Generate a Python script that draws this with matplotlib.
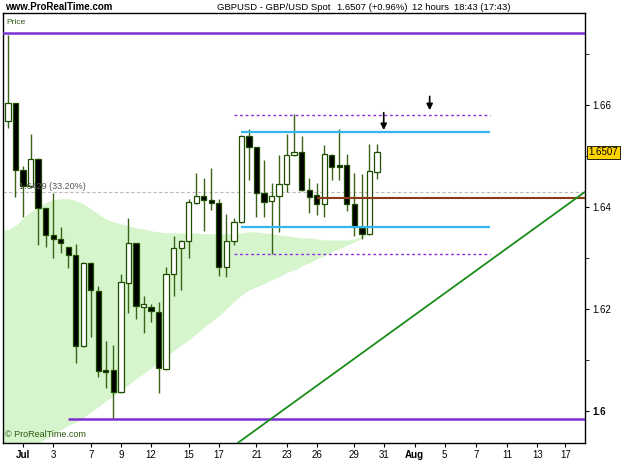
import matplotlib.pyplot as plt
import matplotlib.transforms as mtransforms
import numpy as np

plt.rcParams['font.family'] = ['Liberation Sans', 'DejaVu Sans']

# GBPUSD 12h candles, 30 Jun - 30 Jul
opens = [1.6569, 1.6604, 1.6473, 1.6441, 1.6494, 1.6398, 1.6345, 1.6337, 1.6322, 1.6306,
         1.6127, 1.6290, 1.6235, 1.6080, 1.6080, 1.6037, 1.6251, 1.6329, 1.6204, 1.6204,
         1.6194, 1.6082, 1.6269, 1.6320, 1.6333, 1.6408, 1.6422, 1.6414, 1.6408, 1.6282,
         1.6333, 1.6371, 1.6539, 1.6518, 1.6427, 1.6412, 1.6422, 1.6445, 1.6502, 1.6508,
         1.6433, 1.6424, 1.6406, 1.6502, 1.6482, 1.6482, 1.6406, 1.6359, 1.6347, 1.6469]
highs = [1.6737, 1.6604, 1.6480, 1.6543, 1.6496, 1.6398, 1.6427, 1.6361, 1.6322, 1.6327,
         1.6292, 1.6292, 1.6245, 1.6137, 1.6129, 1.6269, 1.6378, 1.6329, 1.6225, 1.6210,
         1.6214, 1.6282, 1.6343, 1.6335, 1.6416, 1.6467, 1.6457, 1.6476, 1.6416, 1.6386,
         1.6378, 1.6541, 1.6553, 1.6518, 1.6492, 1.6447, 1.6502, 1.6543, 1.6582, 1.6539,
         1.6457, 1.6447, 1.6522, 1.6504, 1.6553, 1.6504, 1.6467, 1.6465, 1.6524, 1.6524]
lows = [1.6555, 1.6420, 1.6380, 1.6437, 1.6325, 1.6322, 1.6300, 1.6310, 1.6280, 1.6094,
        1.6125, 1.6145, 1.6067, 1.6045, 1.5984, 1.6035, 1.6192, 1.6180, 1.6153, 1.6175,
        1.6035, 1.6080, 1.6225, 1.6237, 1.6300, 1.6406, 1.6353, 1.6394, 1.6265, 1.6263,
        1.6325, 1.6369, 1.6453, 1.6380, 1.6380, 1.6308, 1.6351, 1.6429, 1.6500, 1.6431,
        1.6388, 1.6384, 1.6380, 1.6453, 1.6453, 1.6392, 1.6343, 1.6337, 1.6345, 1.6455]
closes = [1.6604, 1.6473, 1.6441, 1.6494, 1.6398, 1.6345, 1.6337, 1.6329, 1.6306, 1.6127,
          1.6290, 1.6237, 1.6078, 1.6076, 1.6037, 1.6253, 1.6329, 1.6206, 1.6210, 1.6196,
          1.6084, 1.6269, 1.6320, 1.6333, 1.6410, 1.6422, 1.6414, 1.6408, 1.6282, 1.6333,
          1.6371, 1.6539, 1.6518, 1.6427, 1.6410, 1.6422, 1.6445, 1.6502, 1.6508, 1.6433,
          1.6420, 1.6406, 1.6504, 1.6478, 1.6478, 1.6406, 1.6361, 1.6347, 1.6471, 1.6507]

# light green band
band_top = [1.6355, 1.6363, 1.6378, 1.6390, 1.6400, 1.6408, 1.6414, 1.6416, 1.6416, 1.6412,
            1.6406, 1.6396, 1.6386, 1.6376, 1.6371, 1.6367, 1.6363, 1.6359, 1.6357, 1.6353,
            1.6351, 1.6349, 1.6349, 1.6349, 1.6349, 1.6349, 1.6347, 1.6347, 1.6347, 1.6347,
            1.6347, 1.6349, 1.6351, 1.6351, 1.6349, 1.6347, 1.6345, 1.6343, 1.6341, 1.6339,
            1.6339, 1.6337, 1.6335, 1.6335, 1.6335, 1.6335, 1.6337, 1.6343, 1.6347, 1.6355]
band_bottom = [1.5904, 1.5912, 1.5920, 1.5929, 1.5937, 1.5945, 1.5955, 1.5963, 1.5971, 1.5978,
               1.5986, 1.5998, 1.6008, 1.6020, 1.6029, 1.6039, 1.6051, 1.6063, 1.6073, 1.6084,
               1.6096, 1.6106, 1.6118, 1.6129, 1.6139, 1.6151, 1.6163, 1.6175, 1.6186, 1.6200,
               1.6214, 1.6227, 1.6237, 1.6243, 1.6249, 1.6257, 1.6263, 1.6271, 1.6276, 1.6284,
               1.6290, 1.6298, 1.6304, 1.6312, 1.6318, 1.6325, 1.6331, 1.6339, 1.6347, 1.6355]

tick_pos = [2, 6, 11, 15, 19, 24, 28, 33, 37, 41, 46, 50, 54, 58, 62.2, 66.3, 70.3, 74]
tick_labels = ['Jul', '3', '7', '9', '12', '15', '17', '21', '23', '26', '29', '31',
               'Aug', '5', '7', '11', '13', '17']

top_level = 1.6741
bottom_level = 1.5984
dotted_levels = [1.6580, 1.6308]
blue_levels = [1.6547, 1.6361]
brown_level = 1.6418
ref_level = 1.6429
trend_pts = ([30.5, 76.6], [1.5937, 1.6429])
last_price = 1.6507

xmin, xmax = -0.66, 76.63
ymin, ymax = 1.5937, 1.6780

fig = plt.figure(figsize=(6.25, 4.69), dpi=100)
ax = fig.add_axes([3/625, 1-443/469, 582/625, 430/469])
ax.set_xlim(xmin, xmax)
ax.set_ylim(ymin, ymax)

idx = np.arange(len(opens))
fx = np.r_[xmin, idx]
ax.fill_between(fx, np.r_[band_bottom[0], band_bottom], np.r_[band_top[0], band_top],
                color='#d6f5cd', lw=0, zorder=1)

ax.axhline(ref_level, color='#bbbbbb', lw=0.8, ls=(0, (3, 2)), zorder=2)
ax.text(1.5, ref_level + 0.0006, '1.6429 (33.20%)', fontsize=6.5, color='#555555', zorder=6)

# candles
o = np.array(opens); c = np.array(closes)
up = c >= o
ax.vlines(idx, lows, highs, color='#3a6318', lw=1.0, zorder=3)
body_lo = np.minimum(o, c)
body_h = np.maximum(np.abs(c - o), 0.00012)
ax.bar(idx, body_h, bottom=body_lo, width=0.7,
       color=np.where(up, 'white', 'black'), edgecolor='#1e4d00', lw=0.9, zorder=4)

# levels
ax.axhline(top_level, color='#7a2fd0', lw=1.8, zorder=5)
ax.hlines(bottom_level, 8, xmax, color='#7a2fd0', lw=1.8, zorder=5)
ax.hlines(dotted_levels, 30, 64, color='#8a2be2', lw=1.0, ls=(0, (2, 2)), zorder=5)
ax.hlines(blue_levels, 31, 64, color='#35b5f0', lw=1.6, zorder=5)
ax.hlines(brown_level, 41, xmax, color='#8b3a1a', lw=1.5, zorder=5)
ax.plot(trend_pts[0], trend_pts[1], color='#1a8c1a', lw=1.3, zorder=5)

for xa, y0, y1 in [(49.9, 1.6590, 1.6545), (56.0, 1.6622, 1.6584)]:
    ax.annotate('', xy=(xa, y1), xytext=(xa, y0),
                arrowprops=dict(arrowstyle='-|>', color='black', lw=1.2, mutation_scale=9),
                zorder=7)

# axes styling
for s in ax.spines.values():
    s.set_linewidth(1.0)
ax.yaxis.tick_right()
ax.set_yticks([1.60, 1.62, 1.64, 1.66])
ax.set_yticklabels(['1.6', '1.62', '1.64', '1.66'])
ax.set_yticks([1.61, 1.63, 1.65, 1.67], minor=True)
ax.tick_params(axis='y', which='both', direction='out', length=3, labelsize=7, pad=2)
ax.set_xticks(tick_pos)
ax.set_xticklabels(tick_labels)
ax.tick_params(axis='x', direction='out', length=3, labelsize=7, pad=2)
for lab in ax.get_xticklabels():
    if lab.get_text() in ('Jul', 'Aug'):
        lab.set_fontweight('bold')
for lab in ax.get_yticklabels():
    if lab.get_text() == '1.6':
        lab.set_fontweight('bold')

trans = mtransforms.blended_transform_factory(ax.transAxes, ax.transData)
ax.text(1.006, last_price, '1.6507', transform=trans, fontsize=7, va='center', ha='left',
        bbox=dict(boxstyle='square,pad=0.15', fc='#ffd400', ec='black', lw=0.6), zorder=8)

ax.text(0.005, 0.985, 'Price', transform=ax.transAxes, fontsize=6, color='#2d5a10', va='top')
ax.text(0.004, 0.01, '\u00a9 ProRealTime.com', transform=ax.transAxes, fontsize=6.5,
        color='#2d5a10', va='bottom')

ty = 1 - 7/469
fig.text(5/625, ty, 'www.ProRealTime.com', fontsize=7, fontweight='bold', va='center')
fig.text(217/625, ty, 'GBPUSD - GBP/USD Spot', fontsize=6.8, va='center')
fig.text(337/625, ty, '1.6507 (+0.96%)', fontsize=6.8, va='center')
fig.text(412/625, ty, '12 hours', fontsize=6.8, va='center')
fig.text(454/625, ty, '18:43 (17:43)', fontsize=6.8, va='center')

fig.savefig('out.png', dpi=100)
